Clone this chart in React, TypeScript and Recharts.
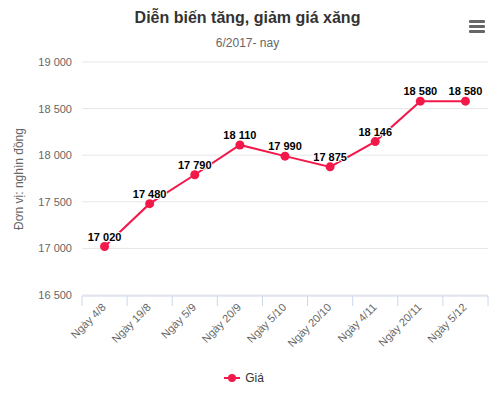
import React from 'react'
import { LineChart, Line, XAxis, YAxis, CartesianGrid, LabelList, Legend } from 'recharts'

const ngay = ['Ngày 4/8', 'Ngày 19/8', 'Ngày 5/9', 'Ngày 20/9', 'Ngày 5/10', 'Ngày 20/10', 'Ngày 4/11', 'Ngày 20/11', 'Ngày 5/12']
const gia = [17020, 17480, 17790, 18110, 17990, 17875, 18146, 18580, 18580]
const ticksY = [16500, 17000, 17500, 18000, 18500, 19000]
const ranhGioi = [0, 1, 2, 3, 4, 5, 6, 7, 8, 9]

const MAU = '#f2184a'
const FONT = 'Arial, "Liberation Sans", sans-serif'

const data = ngay.map((n, i) => ({ ngay: n, gia: gia[i] }))

function soViet(v: number | string): string {
  return String(v).replace(/\B(?=(\d{3})+(?!\d))/g, ' ')
}

function XTick(props: any) {
  const { x, y, payload } = props
  const tx = x + 2
  const ty = y + 13
  return (
    <text x={tx} y={ty} transform={`rotate(-45 ${tx} ${ty})`} textAnchor="end" fill="#666" fontSize={11} fontFamily={FONT}>
      {payload.value}
    </text>
  )
}

function YLabel() {
  return (
    <text x={19} y={179} transform="rotate(-90 19 179)" textAnchor="middle" dominantBaseline="central" fill="#666" fontSize={12} fontFamily={FONT}>
      Đơn vị: nghìn đồng
    </text>
  )
}

function ChuGiai() {
  return (
    <div style={{ display: 'flex', justifyContent: 'center', alignItems: 'center', paddingTop: 13, fontFamily: FONT, fontSize: 12, color: '#333' }}>
      <svg width={16} height={12} style={{ marginRight: 5 }}>
        <line x1={0} y1={6} x2={16} y2={6} stroke={MAU} strokeWidth={2} />
        <circle cx={8} cy={6} r={4} fill={MAU} />
      </svg>
      <span>Giá</span>
    </div>
  )
}

export default function App() {
  return (
    <div style={{ position: 'relative', width: 495, height: 398, background: '#fff', fontFamily: FONT }}>
      <style>{'body{margin:0}'}</style>
      <div style={{ position: 'absolute', top: 9, left: 0, width: 495, textAlign: 'center', fontSize: 16, fontWeight: 'bold', color: '#333' }}>
        Diễn biến tăng, giảm giá xăng
      </div>
      <div style={{ position: 'absolute', top: 36, left: 0, width: 495, textAlign: 'center', fontSize: 12, color: '#666' }}>
        6/2017- nay
      </div>
      <div style={{ position: 'absolute', top: 20, left: 469, width: 16 }}>
        {[0, 1, 2].map((k) => (
          <div key={k} style={{ height: 3, background: '#666', marginBottom: 2, borderRadius: 1 }} />
        ))}
      </div>
      <LineChart width={495} height={398} data={data} margin={{ top: 62, right: 7, bottom: 0, left: 0 }}>
        <CartesianGrid vertical={false} stroke="#e6e6e6" />
        <XAxis
          dataKey="ngay"
          scale="band"
          height={1}
          interval={0}
          axisLine={false}
          tickLine={false}
          tickSize={0}
          tickMargin={0}
          tick={<XTick />}
        />
        <XAxis
          xAxisId="ranh"
          dataKey="ranh"
          type="number"
          domain={[0, 9]}
          ticks={ranhGioi}
          interval={0}
          allowDataOverflow
          height={62}
          tick={() => <g />}
          tickSize={10}
          tickLine={{ stroke: '#ccd6eb' }}
          axisLine={{ stroke: '#ccd6eb' }}
        />
        <YAxis
          domain={[16500, 19000]}
          ticks={ticksY}
          interval={0}
          width={82}
          axisLine={false}
          tickLine={false}
          tickSize={0}
          tickMargin={10}
          tickFormatter={soViet}
          tick={{ fill: '#666', fontSize: 11, fontFamily: FONT }}
          label={<YLabel />}
        />
        <Legend verticalAlign="bottom" height={40} content={<ChuGiai />} />
        <Line
          type="linear"
          dataKey="gia"
          name="Giá"
          stroke={MAU}
          strokeWidth={2}
          dot={{ r: 4.5, fill: MAU, stroke: MAU, strokeWidth: 0 }}
          activeDot={false}
          isAnimationActive={false}
        >
          <LabelList
            dataKey="gia"
            position="top"
            offset={6}
            formatter={soViet}
            style={{ fontSize: 11, fontWeight: 'bold', fill: '#000', stroke: '#fff', strokeWidth: 2, paintOrder: 'stroke', fontFamily: FONT }}
          />
        </Line>
      </LineChart>
    </div>
  )
}
